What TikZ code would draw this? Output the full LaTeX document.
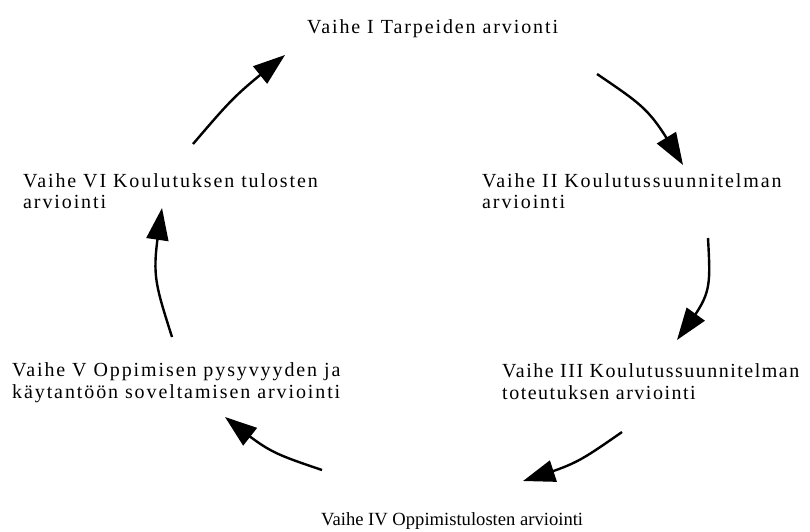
\documentclass[tikz,border=0pt]{standalone}
\usepackage{fontspec}
\setmainfont{Liberation Serif}[LetterSpace=9.5]
\newfontfamily\plainserif{Liberation Serif}
\usetikzlibrary{arrows.meta,bending}
\begin{document}
\begin{tikzpicture}[x=1pt,y=-1pt,
  phase/.style={anchor=base west, inner sep=0pt, align=left,
    font=\fontsize{20}{21.5}\selectfont},
  cyc/.style={line width=2.4pt, -{Triangle[length=32pt,width=22pt,flex]}}]
\useasboundingbox (0,0) rectangle (810,531);

% phase labels (multi-line labels are placed by their last baseline)
\node[phase] (p1) at (307,33)    {Vaihe I Tarpeiden arvionti};
\node[phase] (p2) at (482,208.5) {Vaihe II Koulutussuunnitelman\\arviointi};
\node[phase, font=\fontsize{20}{21.5}\selectfont\addfontfeatures{LetterSpace=7.5}]
  (p3) at (502,399) {Vaihe III Koulutussuunnitelman\\toteutuksen arviointi};
\node[phase, font=\plainserif\fontsize{18.6}{20}\selectfont]
  (p4) at (321,525) {Vaihe IV Oppimistulosten arviointi};
\node[phase] (p5) at (12,398)    {Vaihe V Oppimisen pysyvyyden ja\\käytantöön soveltamisen arviointi};
\node[phase] (p6) at (23,208.5)  {Vaihe VI Koulutuksen tulosten\\arviointi};

% arrow ends around the cycle
\coordinate (a1s) at (193,144); \coordinate (a1e) at (285,55);
\coordinate (a2s) at (597,74);  \coordinate (a2e) at (683,165);
\coordinate (a3s) at (708,238); \coordinate (a3e) at (677,340);
\coordinate (a4s) at (622,432); \coordinate (a4e) at (523,481);
\coordinate (a5s) at (322,470); \coordinate (a5e) at (225,417);
\coordinate (a6s) at (172,337); \coordinate (a6e) at (162,208);

\draw[cyc] (a1s) .. controls (235,95)  .. (a1e);
\draw[cyc] (a2s) .. controls (650,110) .. (a2e);
\draw[cyc] (a3s) .. controls (711,294) .. (a3e);
\draw[cyc] (a4s) .. controls (576,464) .. (a4e);
\draw[cyc] (a5s) .. controls (269,452) .. (a5e);
\draw[cyc] (a6s) .. controls (152,274) .. (a6e);
\end{tikzpicture}
\end{document}
